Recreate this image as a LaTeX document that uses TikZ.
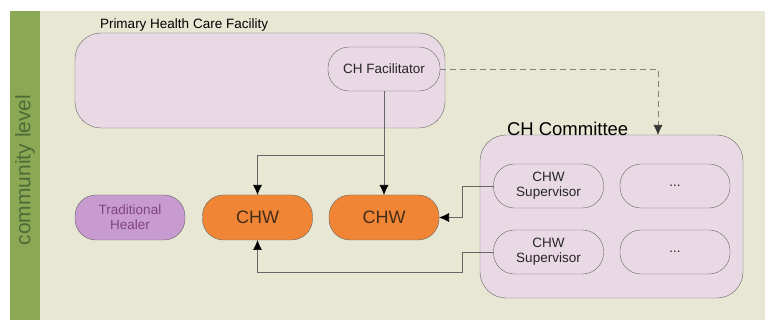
\documentclass[tikz,border=0pt]{standalone}
\usepackage{fontspec}
\setmainfont{Liberation Sans}
\usetikzlibrary{arrows.meta}

\definecolor{bgkhaki}{HTML}{E7E7D3}
\definecolor{bargreen}{HTML}{8BA954}
\definecolor{bartext}{HTML}{4E6B37}
\definecolor{boxpink}{HTML}{E9D9E4}
\definecolor{chworange}{HTML}{F08535}
\definecolor{healpurple}{HTML}{C79AD0}
\definecolor{edgegray}{HTML}{666666}

\begin{document}
\begin{tikzpicture}[x=1pt, y=-1pt]
\tikzset{ >={Latex[length=10pt,width=9pt]}, inner sep=0pt, outer sep=0pt,
  bigbox/.style={draw=edgegray, fill=boxpink, rounded corners=26pt},
  pill/.style={draw=edgegray, fill=boxpink, rounded corners=21pt, align=center,
    minimum width=110pt, minimum height=44pt, font=\fontsize{13.5}{15}\selectfont, text=black!85},
  worker/.style={pill, fill=chworange, text=black!65!brown, font=\fontsize{18}{20}\selectfont},
  link/.style={-{Latex[length=10pt,width=9pt,black]}, draw=edgegray, semithick},
}

% pixel grid of the reference: 765 x 320
\useasboundingbox (0,0) rectangle (765,320);
\fill [bgkhaki] (40,11) rectangle (765,320);
\fill [bargreen] (10,11) rectangle (40,320);
\node [rotate=90, text=bartext, font=\fontsize{21}{24}\selectfont] (lvl) at (25,170) {community level};

%% facility
\node [bigbox, minimum width=370pt, minimum height=95pt] (phc) at (260,80.5) {};
\node [anchor=south west, font=\fontsize{13.5}{15}\selectfont] (phcl) at (100,31) {Primary Health Care Facility};
\node [pill, minimum width=112pt] (fac) at (384,69) {CH Facilitator};

%% committee
\node [bigbox, minimum width=263pt, minimum height=163pt] (com) at (611.5,216.5) {};
\node [anchor=south west, font=\fontsize{18.5}{20}\selectfont] (coml) at (507,136) {CH Committee};
\node [pill] (sup1) at (548.5,186) {CHW\\Supervisor};
\node [pill] (dot1) at (675,186) {...};
\node [pill] (sup2) at (548.5,252) {CHW\\Supervisor};
\node [pill] (dot2) at (675,252) {...};

%% community
\node [pill, fill=healpurple, text=violet!45!gray, minimum height=45pt] (heal) at (130,217.5) {Traditional\\Healer};
\node [worker, minimum height=45pt] (chw1) at (257.5,217.5) {CHW};
\node [worker, minimum height=45pt] (chw2) at (384,217.5) {CHW};

\coordinate (split) at (384,155);
\coordinate (tocom) at (658,135);
\coordinate (sup1in) at (462,186);
\coordinate (sup2in) at (462,272);

\draw [link] (fac.south) -- (chw2.north);
\draw [link] (split) -| (chw1.north);
\draw [link] (sup1.west) -| (sup1in) |- (chw2.east);
\draw [link] (sup2.west) -| (sup2in) -| (chw1.south);
\draw [link, -{Latex[length=10pt,width=9pt,black!80]}, dash pattern=on 6pt off 4pt, draw=gray] (fac.east) -| (tocom);

\end{tikzpicture}
\end{document}
